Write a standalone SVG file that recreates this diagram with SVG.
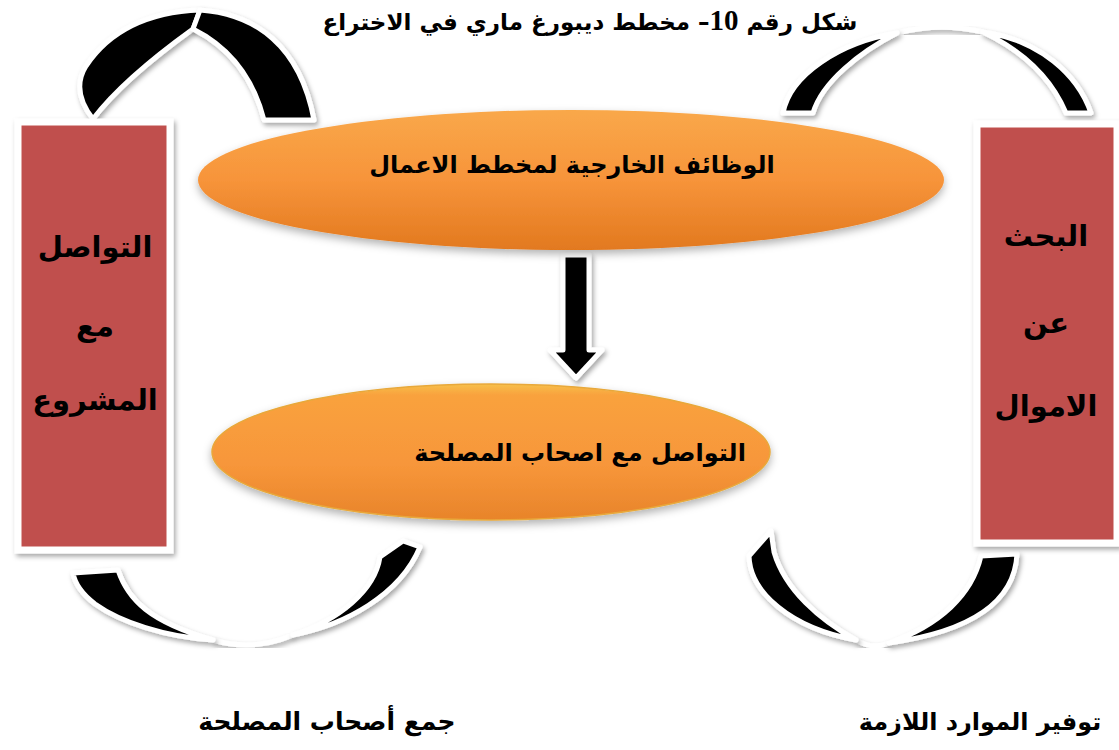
<svg xmlns="http://www.w3.org/2000/svg" width="1119" height="750" viewBox="0 0 1119 750">
<defs>
<filter id="sh" x="-20%" y="-20%" width="140%" height="150%">
<feDropShadow dx="2" dy="3" stdDeviation="2.5" flood-color="#000" flood-opacity="0.35"/>
</filter>
<filter id="esh" x="-10%" y="-20%" width="120%" height="150%">
<feDropShadow dx="0" dy="4" stdDeviation="4" flood-color="#000" flood-opacity="0.3"/>
</filter>
<linearGradient id="og1" x1="0" y1="0" x2="0" y2="1">
<stop offset="0" stop-color="#F9A84A"/>
<stop offset="0.5" stop-color="#F7943A"/>
<stop offset="1" stop-color="#E2791F"/>
</linearGradient>
<linearGradient id="og2" x1="0" y1="0" x2="0" y2="1">
<stop offset="0" stop-color="#F7C04A"/>
<stop offset="0.08" stop-color="#F9A23E"/>
<stop offset="0.6" stop-color="#F7963A"/>
<stop offset="1" stop-color="#E8842A"/>
</linearGradient>
<style>
.arc{fill:#000;stroke:#fff;stroke-width:5;stroke-linejoin:round;filter:url(#sh)}
.gap{fill:none;stroke:#fff;stroke-width:5;filter:url(#sh)}
.box{fill:#C0504D;stroke:#fff;stroke-width:7;filter:url(#sh)}
.t{font-family:"DejaVu Sans","Liberation Sans",sans-serif;font-weight:bold;fill:#000;text-anchor:middle}
</style>
</defs>
<rect width="1119" height="750" fill="#fff"/>

<g id="title">
<text class="t" x="590" y="30" font-size="23" direction="rtl">شكل رقم <tspan font-family="Liberation Serif" font-size="29">10</tspan>– مخطط ديبورغ ماري في الاختراع</text>
</g>

<g id="connectors">
<!-- top-left -->
<path class="arc" d="M93,119 C78,100 76,82 86,66 C110,30 150,12 200,10 L193,29 C150,60 115,90 93,119 Z"/>
<path class="arc" d="M200,10 C255,14 300,45 314,120 L264,120 C255,85 235,50 193,29 Z"/>
<!-- top-right -->
<path class="gap" d="M897,33 Q940,22 983,32"/>
<path class="arc" d="M783,113 C790,75 840,42 897,33 C860,52 822,82 813,113 Z"/>
<path class="arc" d="M983,32 C1040,40 1078,75 1091,113 L1066,113 C1052,80 1025,52 983,32 Z"/>
<!-- bottom-left -->
<path class="gap" d="M213,640 Q253,652 293,635"/>
<path class="arc" d="M73,573 L118,570 C128,600 150,622 213,640 C165,637 120,622 95,604 C82,594 75,585 73,573 Z"/>
<path class="arc" d="M293,635 C345,625 400,595 420,547 L403,541 L380,557 C375,590 340,620 293,635 Z"/>
<!-- bottom-right -->
<path class="gap" d="M856,640 Q872,650 889,643"/>
<path class="arc" d="M771,531 L749,556 C750,592 790,628 856,640 C820,620 785,590 774,552 Z"/>
<path class="arc" d="M981,556 L1017,554 C1015,596 980,630 889,643 C940,625 972,595 981,556 Z"/>
<!-- down arrow -->
<path class="arc" stroke-width="8" d="M563,255 L589,255 L589,350 L602,350 L576,378 L550,350 L563,350 Z"/>
</g>

<g id="node-left">
<rect class="box" x="18" y="122" width="152" height="428"/>
<text class="t" x="95" y="257" font-size="29">التواصل</text>
<text class="t" x="95" y="336" font-size="29">مع</text>
<text class="t" x="95" y="410" font-size="29">المشروع</text>
</g>

<g id="node-right">
<rect class="box" x="977" y="124" width="140" height="419"/>
<text class="t" x="1046" y="246" font-size="29">البحث</text>
<text class="t" x="1046" y="333" font-size="29">عن</text>
<text class="t" x="1046" y="416" font-size="29">الاموال</text>
</g>

<g id="node-top">
<ellipse cx="571" cy="180" rx="373" ry="70" fill="url(#og1)" filter="url(#esh)"/>
<text class="t" x="572" y="173" font-size="24" direction="rtl">الوظائف الخارجية لمخطط الاعمال</text>
</g>

<g id="node-bottom">
<ellipse cx="491" cy="452" rx="279" ry="68" fill="url(#og2)" stroke="#E8A83A" stroke-width="1.5" filter="url(#esh)"/>
<text class="t" x="580" y="461" font-size="24" direction="rtl">التواصل مع اصحاب المصلحة</text>
</g>

<g id="label-left">
<text class="t" x="327" y="730" font-size="25" direction="rtl">جمع أصحاب المصلحة</text>
</g>
<g id="label-right">
<text class="t" x="980" y="730" font-size="24" direction="rtl">توفير الموارد اللازمة</text>
</g>
</svg>
